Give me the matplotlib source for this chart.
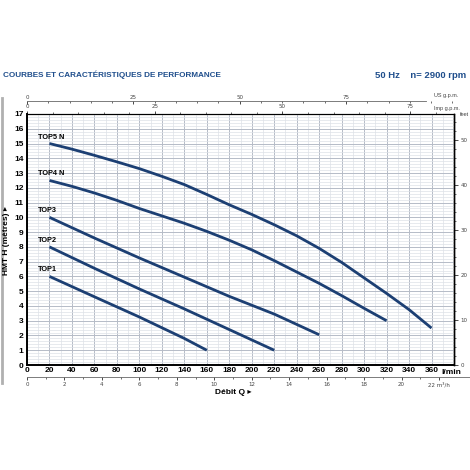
import matplotlib.pyplot as plt
from matplotlib.ticker import MultipleLocator
from matplotlib.lines import Line2D

# Pump performance curves, Q in l/min, H in metres
q_top1 = [20, 60, 100, 140, 160]
h_top1 = [6.0, 4.62, 3.25, 1.8, 1.0]
q_top2 = [20, 60, 100, 140, 180, 220]
h_top2 = [8.0, 6.55, 5.15, 3.8, 2.4, 1.0]
q_top3 = [20, 60, 100, 140, 180, 220, 260]
h_top3 = [10.0, 8.6, 7.25, 5.95, 4.65, 3.45, 2.05]
q_top4 = [20, 40, 60, 80, 100, 120, 140, 160, 180, 200, 220, 240, 260, 280, 300, 320]
h_top4 = [12.5, 12.1, 11.65, 11.15, 10.6, 10.1, 9.6, 9.05, 8.45, 7.8, 7.07, 6.3, 5.53, 4.7, 3.84, 3.0]
q_top5 = [20, 40, 60, 80, 100, 120, 140, 160, 180, 200, 220, 240, 260, 280, 300, 320, 340, 360]
h_top5 = [15.0, 14.62, 14.2, 13.76, 13.3, 12.78, 12.22, 11.55, 10.85, 10.2, 9.5, 8.75, 7.9, 6.95, 5.9, 4.85, 3.75, 2.5]
curve_names = ['TOP1', 'TOP2', 'TOP3', 'TOP4 N', 'TOP5 N']

y_ticks = list(range(0, 18))
x_ticks = list(range(0, 361, 20))
feet_ticks = [0, 10, 20, 30, 40, 50]
imp_ticks = [0, 25, 50, 75]
us_ticks = [0, 25, 50, 75]
m3h_ticks = list(range(0, 23, 2))

blue = '#1c3f73'
title_blue = '#1f4e8c'
font = 'Liberation Sans'

fig = plt.figure(figsize=(4.7, 4.7), dpi=100)
ax = fig.add_axes([27 / 470, 105 / 470, 427 / 470, 251 / 470])
ax.set_xlim(0, 380)
ax.set_ylim(0, 17)

# grid
ax.xaxis.set_major_locator(MultipleLocator(20))
ax.xaxis.set_minor_locator(MultipleLocator(10))
ax.yaxis.set_major_locator(MultipleLocator(1))
ax.yaxis.set_minor_locator(MultipleLocator(0.2))
ax.grid(True, which='major', color='#b5bbc7', linewidth=0.7)
ax.grid(True, which='minor', color='#dde1e8', linewidth=0.5)
ax.set_axisbelow(True)

curves = [(q_top1, h_top1), (q_top2, h_top2), (q_top3, h_top3),
          (q_top4, h_top4), (q_top5, h_top5)]
for (q, h), name in zip(curves, curve_names):
    ax.plot(q, h, color=blue, linewidth=2.0, solid_capstyle='butt', solid_joinstyle='round')
    ax.text(q[0] - 10, h[0] + 0.2, name, fontsize=5.3, fontweight='bold',
            family=font, ha='left', va='bottom')

ax.set_xticks(x_ticks)
ax.set_xticklabels([str(v) for v in x_ticks], fontsize=6, fontweight='bold', family=font)
ax.set_yticks(y_ticks)
ax.set_yticklabels([str(v) for v in y_ticks], fontsize=6, fontweight='bold', family=font)
ax.tick_params(axis='both', which='both', length=0, pad=2.5)
ax.tick_params(axis='x', pad=1.5)
for s in ['left', 'bottom']:
    ax.spines[s].set_linewidth(1.4)
ax.spines['right'].set_linewidth(1.0)
ax.spines['top'].set_linewidth(0.8)

ax.text(369, -0.3, 'l/min', fontsize=6, fontweight='bold', family=font,
        ha='left', va='top')

small = dict(fontsize=4, color='#444444', family=font)

# right axis: feet
feet = ax.secondary_yaxis('right', functions=(lambda m: m / 0.3048, lambda f: f * 0.3048))
feet.set_yticks(feet_ticks)
feet.yaxis.set_minor_locator(MultipleLocator(2))
feet.tick_params(which='major', length=3, width=0.5, pad=1.5, labelsize=4, labelcolor='#444444')
feet.tick_params(which='minor', length=1.5, width=0.4)
feet.spines['right'].set_linewidth(1.0)
ax.text(1.015, 1.0, 'feet', transform=ax.transAxes, ha='left', va='center', **small)

# top axis: Imp g.p.m.
imp = ax.secondary_xaxis('top', functions=(lambda q: q / 4.54609, lambda g: g * 4.54609))
imp.set_xticks(imp_ticks)
imp.xaxis.set_minor_locator(MultipleLocator(5))
imp.tick_params(which='major', length=2.5, width=0.5, pad=1, labelsize=4, labelcolor='#444444')
imp.tick_params(which='minor', length=1.5, width=0.4)
ax.text(0.952, 1.012, 'Imp g.p.m.', transform=ax.transAxes, ha='left', va='bottom', **small)

# top axis: US g.p.m.
us = ax.secondary_xaxis(1.052, functions=(lambda q: q / 3.78541, lambda g: g * 3.78541))
us.set_xticks(us_ticks)
us.xaxis.set_minor_locator(MultipleLocator(5))
us.tick_params(which='major', length=2.5, width=0.5, pad=1, labelsize=4, labelcolor='#444444',
               direction='in')
us.tick_params(which='minor', length=1.5, width=0.4, direction='in')
us.spines['top'].set_linewidth(0.6)
us.spines['top'].set_color('#666666')
us.spines['top'].set_bounds(0, 355 / 3.78541)
ax.text(0.952, 1.064, 'US g.p.m.', transform=ax.transAxes, ha='left', va='bottom', **small)

# bottom axis: m3/h
m3h = ax.secondary_xaxis(-0.047, functions=(lambda q: q * 0.06, lambda m: m / 0.06))
m3h.set_xticks(m3h_ticks)
m3h.set_xticklabels([str(v) for v in m3h_ticks[:-1]] + ['22 m³/h'])
m3h.xaxis.set_minor_locator(MultipleLocator(1))
m3h.tick_params(which='major', length=2.5, width=0.5, pad=1.5, labelsize=4, labelcolor='#444444')
m3h.tick_params(which='minor', length=1.5, width=0.4)
m3h.spines['bottom'].set_linewidth(0.6)
m3h.spines['bottom'].set_color('#666666')
m3h.spines['bottom'].set_bounds(0, 22 / 0.06)

# axis titles
fig.text(233 / 470, 1 - 393 / 470, 'Débit Q ▸', fontsize=6, fontweight='bold',
         family=[font, 'DejaVu Sans'], ha='center', va='center')
fig.text(7 / 470, 1 - 240 / 470, 'HMT H (mètres) ▸', fontsize=6, fontweight='bold',
         family=[font, 'DejaVu Sans'], ha='center', va='center', rotation=90)

# header
fig.text(3 / 470, 1 - 75 / 470, 'COURBES ET CARACTÉRISTIQUES DE PERFORMANCE', fontsize=5.9,
         fontweight='bold', color=title_blue, family=font, ha='left', va='center')
fig.text(466 / 470, 1 - 75 / 470, '50 Hz    n= 2900 rpm', fontsize=6.8,
         fontweight='bold', color=title_blue, family=font, ha='right', va='center')

# grey page edge on the left
fig.add_artist(Line2D([1.5 / 470, 1.5 / 470], [1 - 383 / 470, 1 - 98 / 470],
                      color='#b0b0b0', linewidth=2.0, transform=fig.transFigure))

fig.savefig('out.png', dpi=100)
